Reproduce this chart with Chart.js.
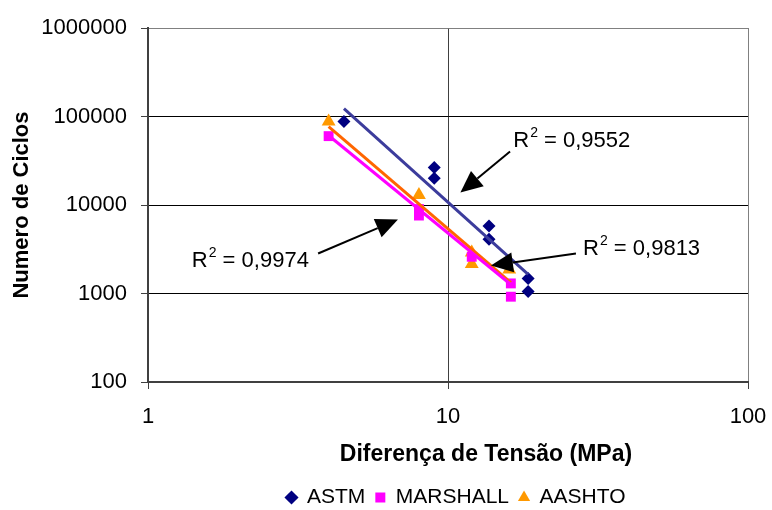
<!DOCTYPE html>
<html>
<head>
<meta charset="utf-8">
<script src="https://cdn.jsdelivr.net/npm/chart.js@4/dist/chart.umd.min.js"></script>
<style>
  html, body { margin: 0; padding: 0; background: #fff; }
  #wrap { width: 772px; height: 510px; }
</style>
</head>
<body>
<div id="wrap"><canvas id="grafico" width="772" height="510"></canvas></div>
<script>
/* Dados */
const astmX = [4.5, 9, 9, 13.7, 13.7, 18.5, 18.5];
const astmY = [88000, 26500, 20000, 5800, 4100, 1480, 1050];
const marshallX = [4, 8, 8, 12, 16.2, 16.2];
const marshallY = [60000, 9000, 7600, 2600, 1300, 920];
const aashtoX = [4, 8, 12, 12, 16];
const aashtoY = [88000, 13000, 2900, 2150, 1870];

// linhas de tendencia (extremos)
const astmFitX = [4.5, 18.5];
const astmFitY = [123000, 1640];
const marshallFitX = [4, 16.5];
const marshallFitY = [61000, 1200];
const aashtoFitX = [4, 16.2];
const aashtoFitY = [77000, 1330];

const xTicks = [1, 10, 100];
const yTicks = [100, 1000, 10000, 100000, 1000000];

const tituloX = 'Diferença de Tensão (MPa)';

// anotacoes R2 (coordenadas de dados)
const r2Labels = ['0,9552', '0,9813', '0,9974'];
const r2TextPos = [[16.5, 44700], [28.2, 2690], [1.4, 1970]];
const r2ArrowTail = [[16.1, 40200], [26.7, 2830], [3.69, 2830]];
const r2ArrowHead = [[11.0, 13800], [13.9, 2070], [6.81, 6850]];

const pts = (xs, ys) => xs.map((x, i) => ({ x: x, y: ys[i] }));

const fonte = 'Arial, "Liberation Sans", sans-serif';

/* Setas e textos R2 + titulo do eixo X */
const anotacoes = {
  id: 'anotacoes',
  beforeDraw(chart) {
    // centraliza a legenda um pouco a direita, como no original
    const lg = chart.legend;
    if (!lg || lg._movida || !lg.legendHitBoxes.length) return;
    const hb = lg.legendHitBoxes;
    const ult = hb[hb.length - 1];
    const centro = (hb[0].left + ult.left + ult.width) / 2;
    const alvo = (chart.chartArea.left + chart.chartArea.right) / 2 + 8;
    const d = alvo - centro;
    lg.left += d;
    lg.right += d;
    lg._movida = true;
  },
  afterDatasetsDraw(chart) {
    const c = chart.ctx;
    const sx = chart.scales.x, sy = chart.scales.y;
    c.save();
    for (let i = 0; i < r2Labels.length; i++) {
      const tx = sx.getPixelForValue(r2ArrowTail[i][0]);
      const ty = sy.getPixelForValue(r2ArrowTail[i][1]);
      const hx = sx.getPixelForValue(r2ArrowHead[i][0]);
      const hy = sy.getPixelForValue(r2ArrowHead[i][1]);
      const ang = Math.atan2(hy - ty, hx - tx);
      const len = 22, half = 10;
      const bx = hx - len * Math.cos(ang), by = hy - len * Math.sin(ang);
      c.strokeStyle = '#000';
      c.lineWidth = 2;
      c.beginPath();
      c.moveTo(tx, ty);
      c.lineTo(bx, by);
      c.stroke();
      c.fillStyle = '#000';
      c.beginPath();
      c.moveTo(hx, hy);
      c.lineTo(bx + half * Math.sin(ang), by - half * Math.cos(ang));
      c.lineTo(bx - half * Math.sin(ang), by + half * Math.cos(ang));
      c.closePath();
      c.fill();

      // texto
      let x = sx.getPixelForValue(r2TextPos[i][0]);
      const y = sy.getPixelForValue(r2TextPos[i][1]);
      c.textBaseline = 'alphabetic';
      c.textAlign = 'left';
      c.font = '22px ' + fonte;
      c.fillText('R', x, y);
      x += c.measureText('R').width + 1;
      c.font = '14px ' + fonte;
      c.fillText('2', x, y - 10);
      x += c.measureText('2').width;
      c.font = '22px ' + fonte;
      c.fillText(' = ' + r2Labels[i], x, y);
    }
    // titulo do eixo x (deslocado para a direita como no original)
    c.font = 'bold 23px ' + fonte;
    c.textAlign = 'center';
    c.textBaseline = 'middle';
    c.fillStyle = '#000';
    c.fillText(tituloX, (chart.chartArea.left + chart.chartArea.right) / 2 + 38, chart.chartArea.bottom + 73);
    c.restore();
  }
};

const ctx = document.getElementById('grafico').getContext('2d');

let chart = new Chart(ctx, {
  type: 'scatter',
  data: {
    datasets: [
      { label: 'ASTM', data: pts(astmX, astmY), pointStyle: 'rectRot', pointRadius: 6.5,
        backgroundColor: '#000080', borderColor: '#000080', borderWidth: 0, order: 2 },
      { label: 'MARSHALL', data: pts(marshallX, marshallY), pointStyle: 'rect', pointRadius: 7,
        backgroundColor: '#FF00FF', borderColor: '#FF00FF', borderWidth: 0, order: 2 },
      { label: 'AASHTO', data: pts(aashtoX, aashtoY), pointStyle: 'triangle', pointRadius: 8,
        backgroundColor: '#FF9900', borderColor: '#FF9900', borderWidth: 0, order: 2 },
      { label: 'tend-astm', data: pts(astmFitX, astmFitY), showLine: true, pointRadius: 0,
        borderColor: '#3C3C9C', borderWidth: 3, order: 1 },
      { label: 'tend-marshall', data: pts(marshallFitX, marshallFitY), showLine: true, pointRadius: 0,
        borderColor: '#FF00FF', borderWidth: 3, order: 1 },
      { label: 'tend-aashto', data: pts(aashtoFitX, aashtoFitY), showLine: true, pointRadius: 0,
        borderColor: '#FF6600', borderWidth: 3, order: 1 }
    ]
  },
  options: {
    responsive: false,
    animation: false,
    events: [],
    layout: { padding: { left: 0, right: 24, top: 28, bottom: -8 } },
    plugins: {
      tooltip: { enabled: false },
      legend: {
        position: 'bottom',
        labels: {
          filter: item => !item.text.startsWith('tend'),
          usePointStyle: true,
          boxWidth: 10,
          boxHeight: 10,
          padding: 10,
          color: '#000',
          font: { family: fonte, size: 21 }
        }
      }
    },
    scales: {
      x: {
        type: 'logarithmic',
        min: 1,
        max: 100,
        afterBuildTicks: s => { s.ticks = xTicks.map(v => ({ value: v, major: true })); },
        afterFit: s => { s.height = 95; s.paddingRight = 0; s.paddingLeft = 0; },
        ticks: {
          autoSkip: false,
          maxRotation: 0,
          padding: 15,
          color: '#000',
          font: { family: fonte, size: 22 },
          callback: v => String(v)
        },
        grid: {
          color: c => c.index === 2 ? '#808080' : '#404040',
          tickColor: '#404040',
          tickLength: 7,
          lineWidth: 1
        },
        border: { color: '#404040', width: 2 },
        title: { display: false }
      },
      y: {
        type: 'logarithmic',
        min: 100,
        max: 1000000,
        afterBuildTicks: s => { s.ticks = yTicks.map(v => ({ value: v, major: true })); },
        afterFit: s => { s.width = 148; },
        ticks: {
          autoSkip: false,
          padding: 14,
          color: '#000',
          font: { family: fonte, size: 22 },
          callback: v => String(v)
        },
        grid: {
          color: c => c.index === 4 ? '#808080' : '#000000',
          tickColor: '#404040',
          tickLength: 7,
          lineWidth: 1
        },
        border: { color: '#404040', width: 2 },
        title: {
          display: true,
          text: 'Numero de Ciclos',
          color: '#000',
          font: { family: fonte, size: 22, weight: 'bold' },
          padding: { top: 9, bottom: 0 }
        }
      }
    }
  },
  plugins: [anotacoes]
});
</script>
</body>
</html>
